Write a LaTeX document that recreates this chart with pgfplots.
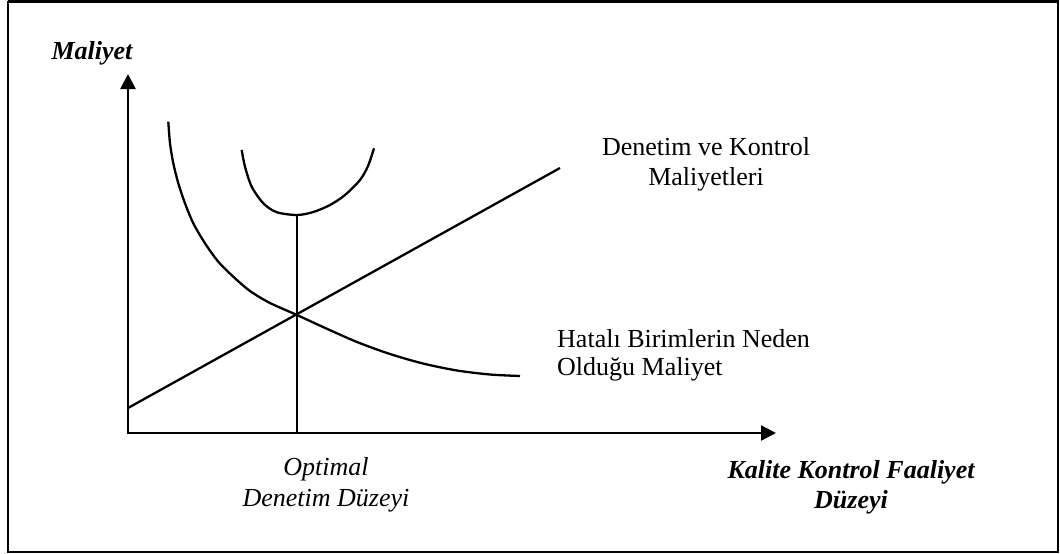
\documentclass[border=0pt]{standalone}
\usepackage{pgfplots}
\pgfplotsset{compat=1.18}
\usepackage{fontspec}
\setmainfont{Liberation Serif}
\usetikzlibrary{arrows.meta}
\begin{document}
\begin{tikzpicture}
\begin{axis}[
  scale only axis, width=1060pt, height=554pt,
  xmin=0, xmax=1060, ymin=0, ymax=554, y dir=reverse,
  axis lines=none, clip=false,
]
% frame
\addplot[black, no marks, line width=2.6pt] coordinates {(8,1.3) (1058,1.3) (1058,552) (8,552) (8,1.3)};
% axes
\addplot[black, no marks, line width=2.3pt, -{Triangle[length=15pt,width=15pt]}] coordinates {(128,433) (128,74)};
\addplot[black, no marks, line width=2.3pt, -{Triangle[length=15pt,width=15pt]}] coordinates {(127,433) (776,433)};
% inspection/control cost line
\addplot[black, no marks, line width=2.3pt] coordinates {(128,408) (560,168)};
% defective units cost curve
\addplot[black, no marks, line width=2.3pt, smooth, tension=0.5] coordinates {(168.3,121.7) (170,143.3) (173.3,163.3) (178.3,183.3) (185,203.3) (193.3,223.3) (205,243.3) (218.3,261.7) (233.3,276.7) (250,291) (270,303) (297,315) (323,327) (357,342) (390,354) (423,363.5) (457,370.5) (490,374.5) (520,376)};
% total cost U-curve
\addplot[black, no marks, line width=2.3pt, smooth, tension=0.5] coordinates {(241.7,150) (245,166.7) (251.7,186.7) (263.3,203.3) (276.7,212.2) (297,215) (313.3,212) (330,205) (345,195) (360,180) (368,166) (374,148.3)};
% optimal vertical
\addplot[black, no marks, line width=2.3pt] coordinates {(297,433) (297,214)};
% texts
\node[anchor=base, font=\fontsize{26}{30}\selectfont\bfseries\itshape] at (axis cs:92,59) {Maliyet};
\node[anchor=base, font=\fontsize{26}{30}\selectfont] at (axis cs:706,155) {Denetim ve Kontrol};
\node[anchor=base, font=\fontsize{26}{30}\selectfont] at (axis cs:706,185) {Maliyetleri};
\node[anchor=base west, inner xsep=0pt, font=\fontsize{26}{30}\selectfont] at (axis cs:557,347) {Hatalı Birimlerin Neden};
\node[anchor=base west, inner xsep=0pt, font=\fontsize{26}{30}\selectfont] at (axis cs:557,375) {Olduğu Maliyet};
\node[anchor=base, font=\fontsize{26}{30}\selectfont\itshape] at (axis cs:326,475) {Optimal};
\node[anchor=base, font=\fontsize{26}{30}\selectfont\itshape] at (axis cs:326,506) {Denetim Düzeyi};
\node[anchor=base, font=\fontsize{26}{30}\selectfont\bfseries\itshape] at (axis cs:851,478) {Kalite Kontrol Faaliyet};
\node[anchor=base, font=\fontsize{26}{30}\selectfont\bfseries\itshape] at (axis cs:851,508) {Düzeyi};
\end{axis}
\useasboundingbox (0,0) rectangle (1060pt,554pt);
\end{tikzpicture}
\end{document}
